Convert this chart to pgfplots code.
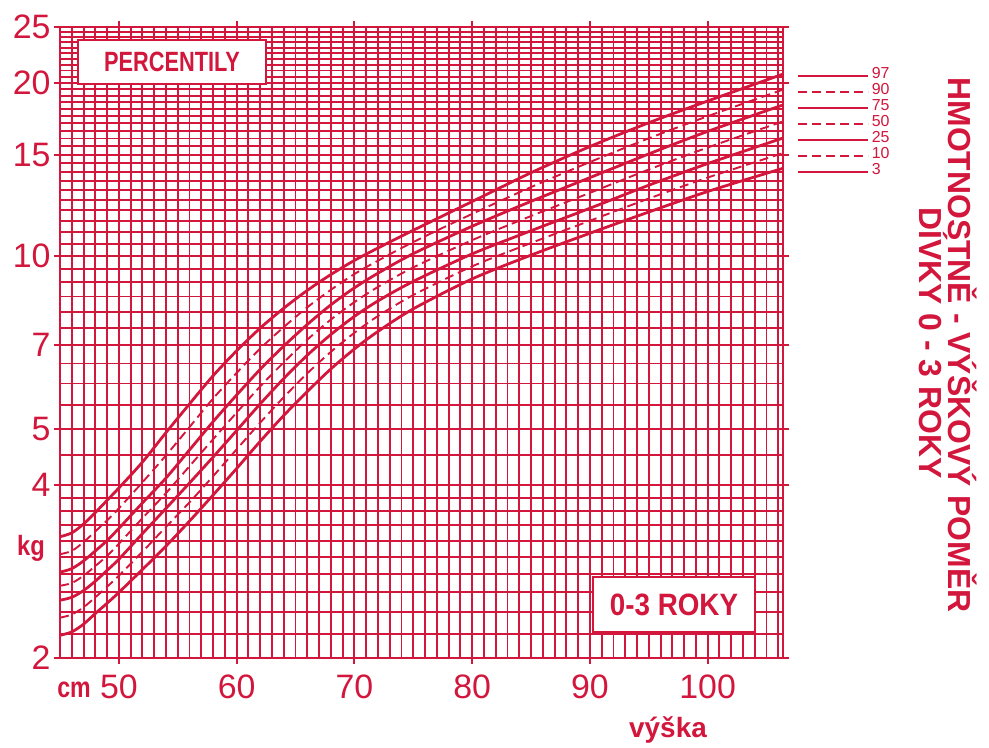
\documentclass[border=0pt]{standalone}
\usepackage{pgfplots}
\pgfplotsset{compat=1.18}
\usepackage{fontspec}
\setmainfont{Liberation Sans}
\usepackage{graphicx}
\definecolor{chartred}{RGB}{210,22,60}
\begin{document}
\begin{tikzpicture}[x=1bp,y=1bp]
\path[use as bounding box] (0,0) rectangle (989,748);
\begin{axis}[
  at={(60bp,90bp)}, anchor=south west,
  scale only axis, width=723bp, height=631bp,
  xmin=45, xmax=106.4, ymin=2, ymax=25,
  ymode=log,
  xtick={50,60,70,80,90,100},
  ytick={2,4,5,7,10,15,20,25},
  yticklabels={2,4,5,7,10,15,20,25},
  minor xtick={45,46,47,48,49,51,52,53,54,55,56,57,58,59,61,62,63,64,65,66,67,68,69,71,72,73,74,75,76,77,78,79,81,82,83,84,85,86,87,88,89,91,92,93,94,95,96,97,98,99,101,102,103,104,105,106},
  minor ytick={2.2,2.4,2.6,2.8,3,3.2,3.4,3.6,3.8,4.5,5.5,6,6.5,7.5,8,8.5,9,9.5,10.5,11,11.5,12,12.5,13,13.5,14,14.5,15.5,16,16.5,17,17.5,18,18.5,19,19.5,20.5,21,21.5,22,22.5,23,23.5,24,24.5},
  grid=both,
  every axis grid/.style={draw=chartred},
  every major grid/.style={draw=chartred, line width=2.1bp},
  every minor grid/.style={draw=chartred, line width=1.9bp},
  axis line style={draw=chartred, line width=2.4bp},
  every tick/.style={draw=chartred, line width=1.8bp},
  every minor tick/.style={draw=none},
  major tick length=6bp, minor tick length=0pt,
  tick align=outside,
  xtick pos=both, ytick pos=both,
  xticklabel pos=lower, yticklabel pos=left,
  ticklabel style={font=\fontsize{34}{34}\selectfont, text=chartred},
  xticklabel style={yshift=-7bp},
  /pgf/number format/assume math mode=true,
  legend style={at={(1.0194,0.935)}, anchor=north west, draw=none, fill=none,
    inner sep=0pt, outer sep=0pt, row sep=0pt,
    font=\fontsize{16}{16}\selectfont, text=chartred,
    nodes={inner sep=2bp, text height=8.2bp, text depth=3.8bp}},
  legend cell align=left,
  legend image code/.code={\draw[#1] (0bp,0bp) -- (70bp,0bp);},
]
% 97
\addplot[chartred, line width=2.8bp, smooth] coordinates {
(45,3.25)(46,3.30)(47,3.42)(48,3.58)(49,3.76)(50,3.95)(52,4.38)(54,4.93)(56,5.53)(58,6.19)(60,6.84)(62,7.49)(64,8.11)(66,8.71)(68,9.28)(70,9.82)(72,10.32)(75,11.08)(80,12.43)(85,13.95)(90,15.49)(95,17.04)(100,18.59)(106.4,20.70)};
\addlegendentry{97}
% 90
\addplot[chartred, line width=1.9bp, dash pattern=on 9bp off 5bp, smooth] coordinates {
(45,3.03)(46,3.07)(47,3.18)(48,3.32)(49,3.47)(50,3.64)(52,4.04)(54,4.50)(56,5.04)(58,5.65)(60,6.26)(62,6.90)(64,7.52)(66,8.14)(68,8.73)(70,9.30)(72,9.81)(75,10.57)(80,11.83)(85,13.17)(90,14.56)(95,16.01)(100,17.49)(106.4,19.46)};
\addlegendentry{90}
% 75
\addplot[chartred, line width=2.8bp, smooth] coordinates {
(45,2.82)(46,2.86)(47,2.95)(48,3.07)(49,3.2)(50,3.36)(52,3.72)(54,4.11)(56,4.60)(58,5.15)(60,5.73)(62,6.35)(64,6.97)(66,7.60)(68,8.22)(70,8.80)(72,9.33)(75,10.09)(80,11.26)(85,12.44)(90,13.68)(95,15.04)(100,16.46)(106.4,18.30)};
\addlegendentry{75}
% 50
\addplot[chartred, line width=1.9bp, dash pattern=on 9bp off 5bp, smooth] coordinates {
(45,2.67)(46,2.70)(47,2.78)(48,2.89)(49,3.01)(50,3.16)(52,3.50)(54,3.87)(56,4.31)(58,4.80)(60,5.34)(62,5.93)(64,6.53)(66,7.15)(68,7.75)(70,8.31)(72,8.83)(75,9.55)(80,10.65)(85,11.73)(90,12.87)(95,14.13)(100,15.43)(106.4,17.13)};
\addlegendentry{50}
% 25
\addplot[chartred, line width=2.8bp, smooth] coordinates {
(45,2.52)(46,2.55)(47,2.62)(48,2.72)(49,2.84)(50,2.97)(52,3.29)(54,3.64)(56,4.03)(58,4.47)(60,4.97)(62,5.53)(64,6.12)(66,6.72)(68,7.30)(70,7.85)(72,8.35)(75,9.03)(80,10.08)(85,11.06)(90,12.10)(95,13.27)(100,14.47)(106.4,16.03)};
\addlegendentry{25}
% 10
\addplot[chartred, line width=1.9bp, dash pattern=on 9bp off 5bp, smooth] coordinates {
(45,2.35)(46,2.38)(47,2.45)(48,2.55)(49,2.66)(50,2.78)(52,3.06)(54,3.38)(56,3.73)(58,4.14)(60,4.61)(62,5.13)(64,5.68)(66,6.25)(68,6.81)(70,7.35)(72,7.86)(75,8.55)(80,9.59)(85,10.53)(90,11.51)(95,12.58)(100,13.68)(106.4,15.09)};
\addlegendentry{10}
% 3
\addplot[chartred, line width=2.8bp, smooth] coordinates {
(45,2.19)(46,2.22)(47,2.29)(48,2.39)(49,2.49)(50,2.6)(52,2.85)(54,3.13)(56,3.46)(58,3.84)(60,4.27)(62,4.76)(64,5.28)(66,5.81)(68,6.36)(70,6.89)(72,7.39)(75,8.09)(80,9.12)(85,10.03)(90,10.95)(95,11.92)(100,12.94)(106.4,14.20)};
\addlegendentry{3}
\end{axis}
\node[draw=chartred, line width=2bp, fill=white, minimum width=187bp, minimum height=44bp, inner sep=0pt, text=chartred]
  at (172,686) {\scalebox{0.78}[1]{\fontsize{28}{28}\selectfont\bfseries PERCENTILY}};
\node[draw=chartred, line width=2bp, fill=white, minimum width=162bp, minimum height=55bp, inner sep=0pt, text=chartred]
  at (674,143) {\scalebox{0.9}[1]{\fontsize{31}{31}\selectfont\bfseries 0-3 ROKY}};
\node[text=chartred, inner sep=0pt] at (31,200) {\scalebox{0.85}[1]{\fontsize{28}{28}\selectfont\bfseries kg}};
\node[text=chartred, inner sep=0pt] at (74,58) {\scalebox{0.8}[1]{\fontsize{29}{29}\selectfont\bfseries cm}};
\node[text=chartred, inner sep=0pt] at (668,18) {\fontsize{28}{28}\selectfont\bfseries výška};
\node[rotate=-90, text=chartred, inner sep=0pt] at (963,403) {\fontsize{32}{32}\selectfont\bfseries HMOTNOSTNĚ - VÝŠKOVÝ POMĚR};
\node[rotate=-90, text=chartred, inner sep=0pt] at (933,405) {\fontsize{32}{32}\selectfont\bfseries DÍVKY 0 - 3 ROKY};
\end{tikzpicture}
\end{document}
